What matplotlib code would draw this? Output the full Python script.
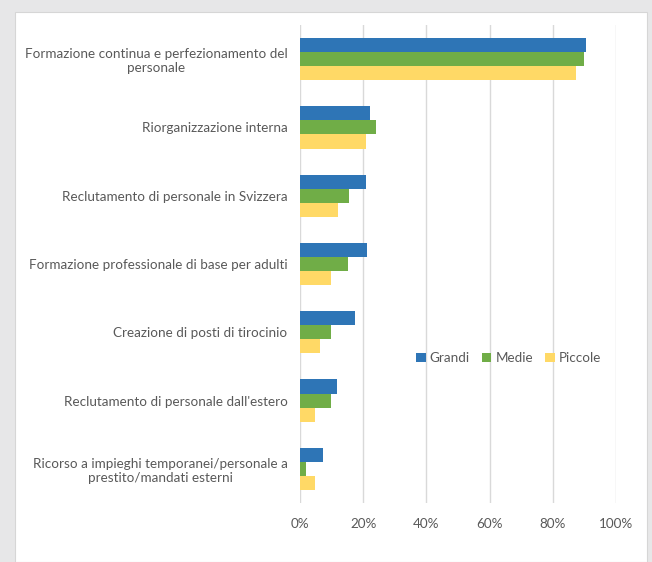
import numpy as np
import matplotlib.pyplot as plt
from matplotlib.patches import Rectangle

# Data (percent)
categories = [
    "Formazione continua e perfezionamento del\npersonale",
    "Riorganizzazione interna",
    "Reclutamento di personale in Svizzera",
    "Formazione professionale di base per adulti",
    "Creazione di posti di tirocinio",
    "Reclutamento di personale dall'estero",
    "Ricorso a impieghi temporanei/personale a\nprestito/mandati esterni",
]
series_names = ["Grandi", "Medie", "Piccole"]
grandi = [90.5, 22.2, 20.9, 21.2, 17.4, 11.7, 7.3]
medie = [89.9, 24.0, 15.5, 15.2, 9.8, 9.8, 1.9]
piccole = [87.3, 20.9, 12.0, 9.8, 6.3, 4.7, 4.7]
xticks = [0, 20, 40, 60, 80, 100]

colors = ["#2e75b6", "#70ad47", "#ffd966"]
text_color = "#595959"

plt.rcParams['font.family'] = ['Lato', 'DejaVu Sans']

fig = plt.figure(figsize=(6.52, 5.62), dpi=100)
fig.patch.set_facecolor("#e7e7e8")
# white chart panel
panel = Rectangle((15 / 652, 0), (647 - 15) / 652, 1 - 12 / 562,
                  transform=fig.transFigure, facecolor="white",
                  edgecolor="#d6d6d6", linewidth=0.8, zorder=-10)
fig.add_artist(panel)

ax = fig.add_axes([300 / 652, 1 - 503 / 562, 316 / 652, 478 / 562])
ax.set_facecolor("none")
ax.set_zorder(5)

y = np.arange(len(categories))
h = 0.206
for i, (name, vals) in enumerate(zip(series_names, [grandi, medie, piccole])):
    ax.barh(y + (i - 1) * h, vals, height=h, color=colors[i], label=name, zorder=3)

ax.set_xlim(0, 100)
ax.set_ylim(len(categories) - 0.5, -0.5)
ax.set_xticks(xticks)
ax.set_xticklabels([f"{v}%" for v in xticks])
ax.set_yticks(y)
ax.set_yticklabels(categories, multialignment="center")
ax.tick_params(axis="both", length=0, colors=text_color, labelsize=9.7)
ax.tick_params(axis="y", pad=9)
ax.tick_params(axis="x", pad=11)
ax.grid(axis="x", color="#d9d9d9", linewidth=1, zorder=0)
ax.set_axisbelow(True)
for s in ax.spines.values():
    s.set_visible(False)

leg = ax.legend(loc="center", bbox_to_anchor=(0.66, 0.303), ncol=3, frameon=False,
                fontsize=9.7, handlelength=0.7, handleheight=0.7, handletextpad=0.3,
                columnspacing=0.9, labelcolor=text_color)

fig.savefig("out.png", dpi=100, facecolor=fig.get_facecolor())
